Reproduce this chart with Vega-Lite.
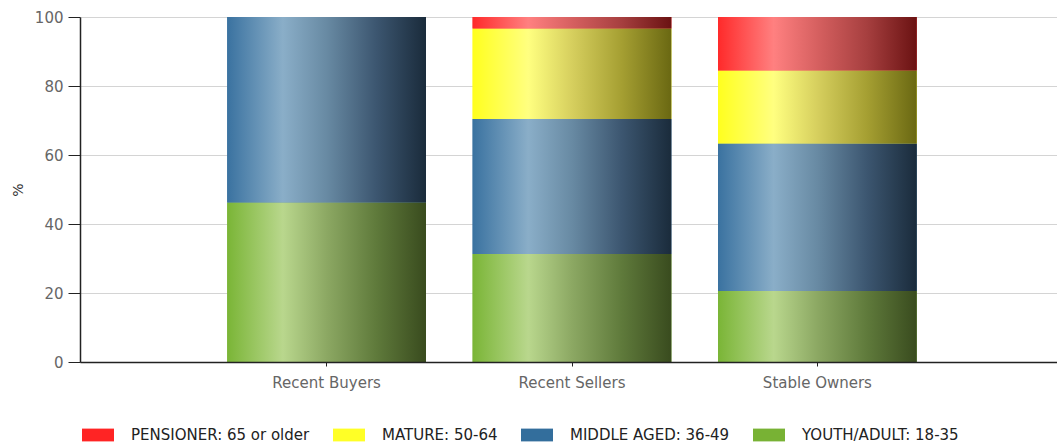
{
  "$schema": "https://vega.github.io/schema/vega-lite/v6.json",
  "autosize": {"type": "none"},
  "padding": {"left": 80, "top": 17, "right": 0, "bottom": 86},
  "width": 984,
  "height": 345,
  "background": "white",
  "config": {
    "view": {"stroke": null},
    "font": "DejaVu Sans",
    "axis": {"labelFont": "DejaVu Sans", "titleFont": "DejaVu Sans"},
    "legend": {"labelFont": "DejaVu Sans"}
  },
  "data": {
    "values": [
      {"category": "Recent Buyers", "group": "YOUTH/ADULT: 18-35", "ageRank": 1, "value": 46.2},
      {"category": "Recent Buyers", "group": "MIDDLE AGED: 36-49", "ageRank": 2, "value": 53.8},
      {"category": "Recent Buyers", "group": "MATURE: 50-64", "ageRank": 3, "value": 0},
      {"category": "Recent Buyers", "group": "PENSIONER: 65 or older", "ageRank": 4, "value": 0},
      {"category": "Recent Sellers", "group": "YOUTH/ADULT: 18-35", "ageRank": 1, "value": 31.3},
      {"category": "Recent Sellers", "group": "MIDDLE AGED: 36-49", "ageRank": 2, "value": 39.1},
      {"category": "Recent Sellers", "group": "MATURE: 50-64", "ageRank": 3, "value": 26.3},
      {"category": "Recent Sellers", "group": "PENSIONER: 65 or older", "ageRank": 4, "value": 3.3},
      {"category": "Stable Owners", "group": "YOUTH/ADULT: 18-35", "ageRank": 1, "value": 20.6},
      {"category": "Stable Owners", "group": "MIDDLE AGED: 36-49", "ageRank": 2, "value": 42.7},
      {"category": "Stable Owners", "group": "MATURE: 50-64", "ageRank": 3, "value": 21.2},
      {"category": "Stable Owners", "group": "PENSIONER: 65 or older", "ageRank": 4, "value": 15.5}
    ]
  },
  "transform": [
    {"stack": "value", "groupby": ["category"], "sort": [{"field": "ageRank", "order": "ascending"}], "as": ["y0", "y1"]}
  ],
  "encoding": {
    "x": {
      "field": "category",
      "type": "nominal",
      "sort": null,
      "scale": {"domain": ["Recent Buyers", "Recent Sellers", "Stable Owners"], "paddingInner": 0.19, "paddingOuter": 0.6},
      "axis": {
        "title": null,
        "labelAngle": 0,
        "labelColor": "#666666",
        "labelFontSize": 15,
        "labelPadding": 9,
        "tickSize": 4,
        "tickColor": "#222222",
        "domainColor": "#222222",
        "domainWidth": 1.5,
        "grid": false,
        "zindex": 2
      }
    },
    "y": {
      "field": "y0",
      "type": "quantitative",
      "scale": {"domain": [0, 100], "nice": false},
      "axis": {
        "title": "%",
        "titleFontSize": 14,
        "titleFontWeight": "normal",
        "titleColor": "#333333",
        "titlePadding": 9,
        "values": [0, 20, 40, 60, 80, 100],
        "labelColor": "#666666",
        "labelFontSize": 15,
        "labelPadding": 5,
        "tickSize": 12,
        "tickColor": "#222222",
        "domainColor": "#222222",
        "domainWidth": 1.5,
        "gridColor": "#d4d4d4",
        "gridWidth": 1
      }
    },
    "y2": {"field": "y1"}
  },
  "layer": [
    {
      "mark": {"type": "bar"},
      "encoding": {
        "color": {
          "field": "group",
          "type": "nominal",
          "scale": {
            "domain": ["PENSIONER: 65 or older", "MATURE: 50-64", "MIDDLE AGED: 36-49", "YOUTH/ADULT: 18-35"],
            "range": ["#ff2424", "#ffff26", "#336e9c", "#78b234"]
          },
          "legend": {
            "title": null,
            "orient": "none",
            "direction": "horizontal",
            "legendX": 2,
            "legendY": 402,
            "symbolType": "M-1,-0.4H1V0.4H-1Z",
            "symbolSize": 1024,
            "symbolStrokeWidth": 0,
            "symbolOpacity": 1,
            "labelFontSize": 15,
            "labelColor": "#222222",
            "labelOffset": 17,
            "columnPadding": 23,
            "labelLimit": 300
          }
        }
      }
    },
    {
      "transform": [{"filter": "datum.ageRank == 1"}],
      "mark": {
        "type": "bar",
        "color": {
          "gradient": "linear", "x1": 0, "x2": 1, "y1": 0, "y2": 0,
          "stops": [
            {"offset": 0, "color": "#7ab536"},
            {"offset": 0.28, "color": "#b9d78d"},
            {"offset": 0.5, "color": "#8ca863"},
            {"offset": 0.75, "color": "#5f7a3b"},
            {"offset": 1, "color": "#394b1e"}
          ]
        }
      }
    },
    {
      "transform": [{"filter": "datum.ageRank == 2"}],
      "mark": {
        "type": "bar",
        "color": {
          "gradient": "linear", "x1": 0, "x2": 1, "y1": 0, "y2": 0,
          "stops": [
            {"offset": 0, "color": "#3a72a0"},
            {"offset": 0.28, "color": "#8aaec8"},
            {"offset": 0.5, "color": "#688aa3"},
            {"offset": 0.75, "color": "#3c5670"},
            {"offset": 1, "color": "#1a2b3b"}
          ]
        }
      }
    },
    {
      "transform": [{"filter": "datum.ageRank == 3"}],
      "mark": {
        "type": "bar",
        "color": {
          "gradient": "linear", "x1": 0, "x2": 1, "y1": 0, "y2": 0,
          "stops": [
            {"offset": 0, "color": "#ffff1e"},
            {"offset": 0.28, "color": "#ffff80"},
            {"offset": 0.5, "color": "#d6cf5e"},
            {"offset": 0.75, "color": "#a59f32"},
            {"offset": 1, "color": "#6a6812"}
          ]
        }
      }
    },
    {
      "transform": [{"filter": "datum.ageRank == 4"}],
      "mark": {
        "type": "bar",
        "color": {
          "gradient": "linear", "x1": 0, "x2": 1, "y1": 0, "y2": 0,
          "stops": [
            {"offset": 0, "color": "#ff2a2a"},
            {"offset": 0.28, "color": "#ff8080"},
            {"offset": 0.5, "color": "#d66060"},
            {"offset": 0.75, "color": "#a63f3f"},
            {"offset": 1, "color": "#6a1212"}
          ]
        }
      }
    }
  ]
}
